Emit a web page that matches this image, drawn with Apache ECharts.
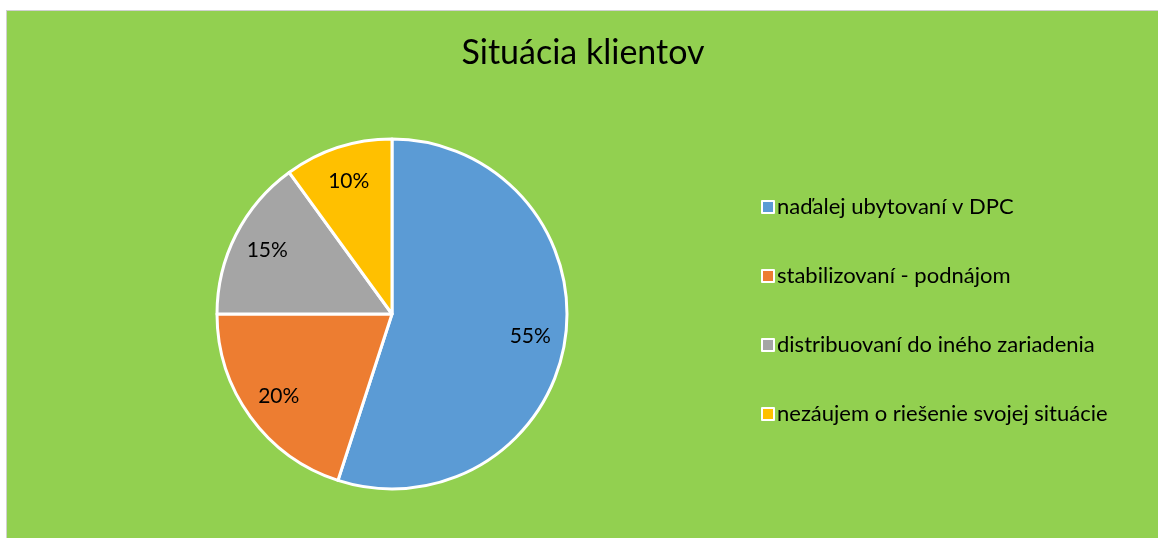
<!DOCTYPE html>
<html>
<head>
<meta charset="utf-8">
<script src="https://cdn.jsdelivr.net/npm/echarts@6/dist/echarts.min.js"></script>
<style>
* { margin: 0; padding: 0; }
body { background: #fff; width: 1158px; height: 538px; overflow: hidden; position: relative; }
#frame { position: absolute; left: 6px; top: 10px; width: 1152px; height: 528px; border-left: 1px solid #d0d0d0; border-top: 1px solid #d0d0d0; }
#main { width: 1152px; height: 528px; }
</style>
</head>
<body>
<div id="frame"><div id="main"></div></div>
<script>
// data
var categories = ['naďalej ubytovaní v DPC', 'stabilizovaní - podnájom', 'distribuovaní do iného zariadenia', 'nezáujem o riešenie svojej situácie'];
var values = [55, 20, 15, 10];
var colors = ['#5B9BD5', '#ED7D31', '#A5A5A5', '#FFC000'];

var cx = 385, cy = 303, R = 175;
var total = values.reduce(function (a, b) { return a + b; }, 0);

var chart = echarts.init(document.getElementById('main'));
chart.setOption({
  backgroundColor: '#92D050',
  animation: false,
  title: {
    text: 'Situácia klientov',
    left: 'center',
    top: 20,
    padding: [5, 0, 5, 16],
    textStyle: { fontFamily: 'Lato', fontSize: 34, fontWeight: 'normal', color: '#000' }
  },
  legend: {
    orient: 'vertical',
    left: 749,
    top: 179,
    itemGap: 45,
    itemWidth: 12,
    itemHeight: 12,
    icon: 'rect',
    itemStyle: { borderColor: '#fff', borderWidth: 2 },
    textStyle: { fontFamily: 'Lato', fontSize: 22, lineHeight: 24, color: '#000', padding: [0, 0, 0, -2] },
    data: categories
  },
  series: [{
    type: 'pie',
    center: [cx, cy],
    radius: R,
    startAngle: 90,
    clockwise: true,
    color: colors,
    itemStyle: { borderColor: '#fff', borderWidth: 3 },
    label: {
      position: 'inside',
      formatter: function (p) { return p.value + '%'; },
      fontFamily: 'Lato',
      fontSize: 21,
      color: '#000'
    },
    labelLine: { show: false },
    labelLayout: function (p) {
      var i = p.dataIndex, before = 0;
      for (var k = 0; k < i; k++) before += values[k];
      var a = (before + values[i] / 2) / total * Math.PI * 2;
      return { x: cx + 0.8 * R * Math.sin(a), y: cy - 0.8 * R * Math.cos(a) };
    },
    emphasis: { disabled: true },
    data: categories.map(function (c, i) { return { name: c, value: values[i] }; })
  }]
});
</script>
</body>
</html>
